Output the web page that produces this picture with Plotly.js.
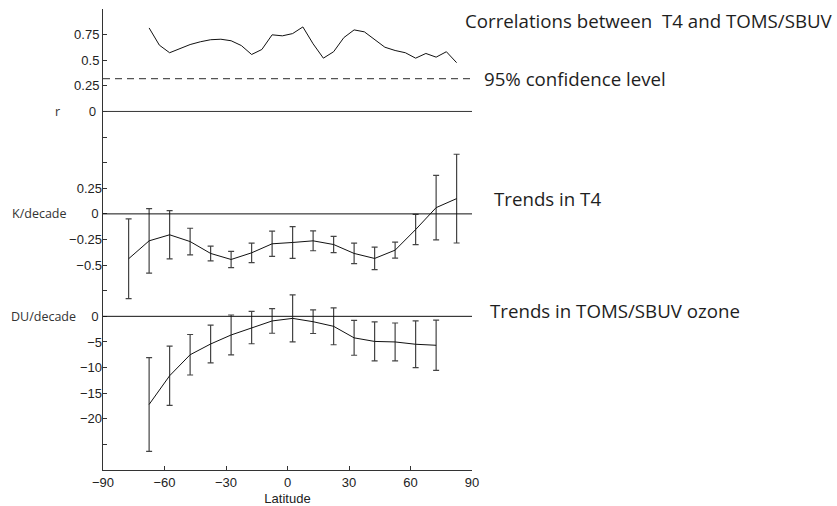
<!DOCTYPE html>
<html>
<head>
<meta charset="utf-8">
<script src="https://cdn.plot.ly/plotly-3.0.1.min.js"></script>
<style>html,body{margin:0;padding:0;background:#fff;}#chart{width:837px;height:506px;}</style>
</head>
<body>
<div id="chart"></div>
<script>
// Correlation between T4 and TOMS/SBUV (5-degree bins)
const corrLat = [-67.5,-62.5,-57.5,-52.5,-47.5,-42.5,-37.5,-32.5,-27.5,-22.5,-17.5,-12.5,-7.5,-2.5,2.5,7.5,12.5,17.5,22.5,27.5,32.5,37.5,42.5,47.5,52.5,57.5,62.5,67.5,72.5,77.5,82.5];
const corrR   = [0.815,0.647,0.573,0.61,0.653,0.68,0.70,0.705,0.69,0.643,0.556,0.605,0.748,0.738,0.76,0.825,0.66,0.52,0.583,0.721,0.796,0.777,0.705,0.627,0.595,0.573,0.52,0.566,0.53,0.583,0.476];
const confLevel = 0.32;

// Trends in T4 (K/decade), 10-degree bins
const t4Lat = [-77.5,-67.5,-57.5,-47.5,-37.5,-27.5,-17.5,-7.5,2.5,12.5,22.5,32.5,42.5,52.5,62.5,72.5,82.5];
const t4Trend = [-0.438,-0.263,-0.204,-0.27,-0.386,-0.445,-0.38,-0.292,-0.279,-0.263,-0.299,-0.386,-0.435,-0.354,-0.153,0.061,0.149];
const t4Err   = [0.39,0.315,0.236,0.13,0.072,0.08,0.095,0.123,0.155,0.097,0.079,0.10,0.11,0.078,0.148,0.315,0.433];

// Trends in TOMS/SBUV ozone (DU/decade), 10-degree bins
const o3Lat = [-67.5,-57.5,-47.5,-37.5,-27.5,-17.5,-7.5,2.5,12.5,22.5,32.5,42.5,52.5,62.5,72.5];
const o3Trend = [-17.2,-11.6,-7.5,-5.4,-3.64,-2.2,-0.9,-0.4,-1.05,-1.95,-4.2,-4.9,-5.0,-5.45,-5.65];
const o3Err   = [9.15,5.8,3.95,3.7,3.9,3.15,2.4,4.6,2.3,3.6,3.4,3.8,3.7,4.55,4.9];

// Axis ticks
const latTicks = [-90,-60,-30,0,30,60,90];
const rTickVals = [0,0.25,0.5,0.75,1.0];
const rTickText = ['0','0.25','0.5','0.75',''];
const kTickVals = [-0.75,-0.5,-0.25,0,0.25,0.5,0.75];
const kTickText = ['','\u22120.5','\u22120.25','0','0.25','',''];
const duTickVals = [-25,-20,-15,-10,-5,0,5];
const duTickText = ['','\u221220','\u221215','\u221210','\u22125','0',''];

const ZERO = '<span style="font-family:\'Open Sans\';font-size:13px">0\u2005</span>';
function fixZero(arr){ return arr.map(t => t === '0' ? ZERO : t); }

const tickFont = {family:'Liberation Sans, Arial, sans-serif', size:13, color:'#222'};
const textFont = {family:'Open Sans, sans-serif', size:18.7, color:'#1e1e1e'};
const labFont = {family:'Open Sans, sans-serif', size:12.5, color:'#333'};

const traces = [
  {x: corrLat, y: corrR, type:'scatter', mode:'lines', line:{color:'#111', width:1}, xaxis:'x', yaxis:'y', hoverinfo:'skip'},
  {x: t4Lat, y: t4Trend, type:'scatter', mode:'lines', line:{color:'#111', width:1}, xaxis:'x', yaxis:'y2',
   error_y:{type:'data', array:t4Err, visible:true, color:'#444', thickness:1.2, width:3}},
  {x: o3Lat, y: o3Trend, type:'scatter', mode:'lines', line:{color:'#111', width:1}, xaxis:'x', yaxis:'y3',
   error_y:{type:'data', array:o3Err, visible:true, color:'#444', thickness:1.2, width:3}}
];

const baseY = {
  domain:[0,1], showgrid:false, zeroline:false, ticks:'inside', ticklen:4, tickwidth:1, tickcolor:'#333',
  tickmode:'array', tickfont:tickFont, fixedrange:true
};

const layout = {
  width:837, height:506,
  margin:{l:103, r:365, t:9, b:36},
  paper_bgcolor:'#fff', plot_bgcolor:'#fff',
  showlegend:false,
  xaxis:{range:[-90,90], tickmode:'array', tickvals:latTicks, ticktext:latTicks.map(v=>v<0?'\u2212'+Math.abs(v):String(v)),
    ticks:'inside', ticklen:4, tickcolor:'#333', showline:true, linecolor:'#333', linewidth:1,
    showgrid:false, zeroline:false, tickfont:tickFont,
    title:{text:'Latitude', font:tickFont, standoff:5}},
  yaxis: Object.assign({}, baseY, {range:[-3.5,1.0], tickvals:rTickVals, ticktext:fixZero(rTickText), showline:true, linecolor:'#333', linewidth:1}),
  yaxis2: Object.assign({}, baseY, {range:[-2.5,2.0], tickvals:kTickVals, ticktext:fixZero(kTickText), overlaying:'y', side:'left', showline:false}),
  yaxis3: Object.assign({}, baseY, {range:[-30,60], tickvals:duTickVals, ticktext:fixZero(duTickText), overlaying:'y', side:'left', showline:false}),
  shapes:[
    {type:'line', xref:'paper', x0:0, x1:1, yref:'y', y0:0, y1:0, line:{color:'#333', width:1}},
    {type:'line', xref:'paper', x0:0, x1:1, yref:'y', y0:confLevel, y1:confLevel, line:{color:'#555', width:1.2, dash:'7px,5px'}},
    {type:'line', xref:'paper', x0:0, x1:1, yref:'y2', y0:0, y1:0, line:{color:'#111', width:1}},
    {type:'line', xref:'paper', x0:0, x1:1, yref:'y3', y0:0, y1:0, line:{color:'#111', width:1}}
  ],
  annotations:[
    {text:'Correlations between\u00a0 T4 and TOMS/SBUV', xref:'paper', yref:'y', x:(463-103)/369, y:0.89, xanchor:'left', yanchor:'middle', showarrow:false, font:textFont},
    {text:'95% confidence level', xref:'paper', yref:'y', x:(482-103)/369, y:0.325, xanchor:'left', yanchor:'middle', showarrow:false, font:textFont},
    {text:'Trends in T4', xref:'paper', yref:'y2', x:(492-103)/369, y:0.15, xanchor:'left', yanchor:'middle', showarrow:false, font:textFont},
    {text:'Trends in TOMS/SBUV ozone', xref:'paper', yref:'y3', x:(488-103)/369, y:1.1, xanchor:'left', yanchor:'middle', showarrow:false, font:textFont},
    {text:'r', xref:'paper', yref:'y', x:(57-103)/369, y:0, xanchor:'center', yanchor:'middle', showarrow:false, font:labFont},
    {text:'K/decade', xref:'paper', yref:'y2', x:(10-103)/369, y:0, xanchor:'left', yanchor:'middle', showarrow:false, font:labFont},
    {text:'DU/decade', xref:'paper', yref:'y3', x:(9-103)/369, y:0, xanchor:'left', yanchor:'middle', showarrow:false, font:labFont}
  ]
};

Plotly.newPlot('chart', traces, layout, {displayModeBar:false, staticPlot:true});
</script>
</body>
</html>
